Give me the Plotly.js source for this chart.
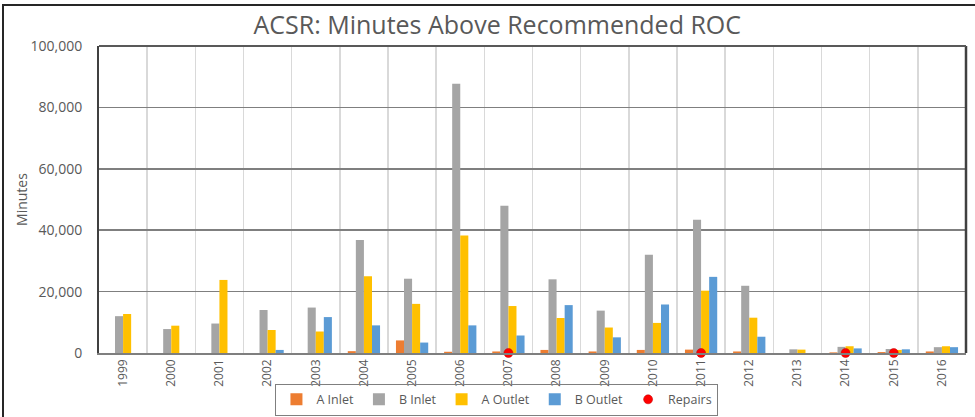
<!DOCTYPE html>
<html>
<head>
<meta charset="utf-8">
<script src="https://cdn.plot.ly/plotly-3.0.1.min.js"></script>
<style>
  html, body { margin: 0; padding: 0; background: #fff; }
  #wrap { position: relative; width: 975px; height: 417px; overflow: hidden; }
  #chart { width: 975px; height: 417px; }
  #frame { position: absolute; left: 2px; top: 4px; width: 990px; height: 430px;
           border-left: 2px solid #262626; border-top: 2px solid #262626; pointer-events: none; }
</style>
</head>
<body>
<div id="wrap">
  <div id="chart"></div>
  <div id="frame"></div>
</div>
<script>
const years = ['1999','2000','2001','2002','2003','2004','2005','2006','2007','2008','2009','2010','2011','2012','2013','2014','2015','2016'];
const aInlet  = [0, 0, 0, 0, 0, 600, 4100, 400, 500, 1000, 500, 1000, 1100, 500, 0, 200, 300, 500];
const bInlet  = [12000, 7800, 9600, 14000, 14800, 36800, 24200, 87700, 48000, 24000, 13800, 32000, 43400, 21900, 1200, 2000, 1300, 1900];
const aOutlet = [12700, 8900, 23800, 7500, 7000, 25000, 16000, 38300, 15300, 11400, 8300, 9800, 20300, 11500, 1100, 2200, 1000, 2200];
const bOutlet = [0, 0, 0, 1000, 11700, 9000, 3400, 9000, 5700, 15600, 5100, 15800, 24800, 5300, 0, 1500, 1200, 1900];
const repairYears = ['2007','2011','2014','2015'];
const repairValues = [0, 0, 0, 0];

const FONT = 'Open Sans, Calibri, sans-serif';
const TXT = '#595959';

const traces = [
  {type:'bar', name:'A Inlet', x:years, y:aInlet, marker:{color:'#ED7D31'}},
  {type:'bar', name:'B Inlet', x:years, y:bInlet, marker:{color:'#A5A5A5'}},
  {type:'bar', name:'A Outlet', x:years, y:aOutlet, marker:{color:'#FFC000'}},
  {type:'bar', name:'B Outlet', x:years, y:bOutlet, marker:{color:'#5B9BD5'}},
  {type:'scatter', mode:'markers', name:'Repairs', x:repairYears, y:repairValues,
   marker:{color:'#FF0000', size:9, line:{color:'#C00000', width:0.5}}, cliponaxis:false}
];

const layout = {
  width: 975, height: 417,
  margin: {l: 99, r: 9, t: 46, b: 64, autoexpand: false},
  paper_bgcolor: '#ffffff', plot_bgcolor: '#ffffff',
  font: {family: FONT, color: TXT, size: 13},
  title: {text: 'ACSR: Minutes Above Recommended ROC', font: {family: FONT, size: 25, color: TXT},
          x: 0.51, xanchor: 'center', y: 0.94, yanchor: 'middle'},
  barmode: 'group', bargap: 0.33, bargroupgap: 0,
  showlegend: true,
  legend: {orientation: 'h', x: 0.459, xanchor: 'center', y: -0.1, yanchor: 'top',
           bgcolor: 'rgba(0,0,0,0)',
           bordercolor: '#7f7f7f', borderwidth: 1, font: {size: 12.5, color: TXT},
           itemwidth: 30, traceorder: 'normal', tracegroupgap: 0},
  xaxis: {type: 'category', tickangle: -90, tickfont: {size: 12, color: TXT},
          showgrid: true, gridcolor: '#d9d9d9', gridwidth: 1.5, tickson: 'boundaries',
          showline: true, linecolor: '#7f7f7f', linewidth: 1.5, mirror: false,
          ticks: '', automargin: false, fixedrange: true},
  yaxis: {range: [0, 100000], dtick: 20000, tickformat: ',d', tickfont: {size: 14, color: TXT},
          ticklabelstandoff: 12,
          title: {text: 'Minutes', font: {size: 14, color: TXT}, standoff: 0},
          showgrid: true, gridcolor: '#7f7f7f', gridwidth: 1.5, zeroline: false,
          showline: true, linecolor: '#404040', linewidth: 2, ticks: '', automargin: false, fixedrange: true},
  shapes: [
    {type:'line', xref:'paper', yref:'paper', x0:1, x1:1, y0:0, y1:1, line:{color:'#404040', width:2.5}},
    {type:'line', xref:'paper', yref:'paper', x0:0, x1:1, y0:1, y1:1, line:{color:'#595959', width:2}}
  ]
};

Plotly.newPlot('chart', traces, layout, {displayModeBar: false, staticPlot: true});
</script>
</body>
</html>
